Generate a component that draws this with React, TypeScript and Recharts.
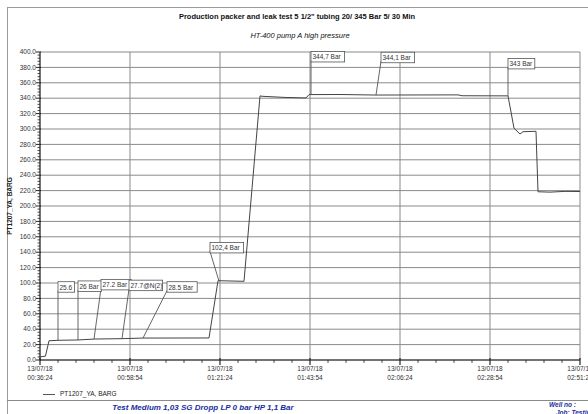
import React from 'react';
import { LineChart, Line, XAxis, YAxis, ReferenceLine, ReferenceDot } from 'recharts';

const font = '"Liberation Sans", Arial, sans-serif';
const seriesName = 'PT1207_YA, BARG';
const dateLabel = '13/07/18';

// time as seconds after midnight, pressure in bar
const times = [
    2184, 2266, 2319, 2454, 2754, 2994, 3414, 3729, 4719, 4854, 5244, 5484, 5514, 5859, 6174, 6219,
    6684, 7224, 8454, 8514, 9204, 9294, 9354, 9384, 9429, 9624, 9654, 9834, 10059, 10284,
];
const pressure = [
    4, 5, 25, 25.6, 26, 27.2, 27.7, 28.5, 28.6, 103, 102.2, 343, 342.5, 341, 340.3, 344.7,
    344.8, 344.1, 344.3, 343.2, 343, 301, 296, 293.5, 296.5, 297, 218.5, 218, 219, 218.8,
];

// annotation boxes: marked point and where the box sits
const noteLabels = ['25.6', '26 Bar', '27.2 Bar', '27.7@N(2)', '28.5 Bar', '102,4 Bar', '344,7 Bar', '344,1 Bar', '343 Bar'];
const noteTimes = [2454, 2754, 2994, 3414, 3729, 4869, 6249, 7224, 9204];
const noteValues = [25.6, 26, 27.2, 27.7, 28.5, 102.4, 344.7, 344.1, 343];
const noteBoxTimes = [2454, 2754, 3099, 3519, 4089, 4734, 6249, 7299, 9204];
const noteBoxValues = [90, 91, 93, 92, 90, 141, 389, 388, 380];

const xStart = 2184;
const xStep = 1350;
const xEnd = 10284;
const xTicks: number[] = [];
for (let t = xStart; t <= xEnd; t += 270) xTicks.push(t);
const xMajors = xTicks.filter((t) => (t - xStart) % xStep === 0);
const yTicks: number[] = [];
for (let v = 0; v <= 400; v += 4) yTicks.push(v);
const yMajors = yTicks.filter((v) => v % 20 === 0);

const data = times.map((t, i) => ({ t, p: pressure[i] }));

const pad = (n: number) => String(n).padStart(2, '0');
const clock = (s: number) => `${pad(Math.floor(s / 3600))}:${pad(Math.floor((s % 3600) / 60))}:${pad(s % 60)}`;

const YTick = (props: any) => {
    const { x, y, payload } = props;
    const major = payload.value % 20 === 0;
    return (
        <g>
            <line x1={x - (major ? 4 : 2.5)} x2={x + (major ? 1 : 0)} y1={y} y2={y} stroke="#222" strokeWidth={major ? 1 : 0.8} />
            {major && (
                <text x={x - 4} y={y + 2.2} textAnchor="end" fontSize={6.5} fontFamily={font} fill="#333">
                    {payload.value.toFixed(1)}
                </text>
            )}
        </g>
    );
};

const XTick = (props: any) => {
    const { x, y, payload } = props;
    const major = (payload.value - xStart) % xStep === 0;
    return (
        <g>
            <line x1={x} x2={x} y1={y - (major ? 2 : 0)} y2={y + (major ? 5 : 3)} stroke="#222" strokeWidth={major ? 1.2 : 0.8} />
            {major && (
                <text textAnchor="middle" fontSize={6.5} fontFamily={font} fill="#333">
                    <tspan x={x} y={y + 11}>{dateLabel}</tspan>
                    <tspan x={x} y={y + 20}>{clock(payload.value)}</tspan>
                </text>
            )}
        </g>
    );
};

const NoteBox = ({ cx, cy, text }: { cx: number; cy: number; text: string }) => {
    const w = text.length * 3.4 + 3;
    return (
        <g>
            <rect x={cx} y={cy - 9} width={w} height={10.5} fill="#fff" stroke="#555" strokeWidth={0.8} />
            <text x={cx + 1.5} y={cy - 1.2} fontSize={6.5} fontFamily={font} fill="#333">
                {text}
            </text>
        </g>
    );
};

const blue = '#1a2f9e';

const App = () => {
    return (
        <div style={{ position: 'absolute', left: 0, top: 0, width: 588, height: 414, background: '#fff', fontFamily: font, overflow: 'hidden' }}>
            <div style={{ position: 'absolute', left: 7, top: 7, width: 590, height: 420, border: '1px solid #9a9a9a' }} />
            <div style={{ position: 'absolute', left: 0, width: 594, top: 12, textAlign: 'center', fontSize: 7.5, fontWeight: 'bold', color: '#111' }}>
                Production packer and leak test 5 1/2" tubing 20/ 345 Bar 5/ 30 Min
            </div>
            <div style={{ position: 'absolute', left: 0, width: 600, top: 31, textAlign: 'center', fontSize: 7.5, fontStyle: 'italic', color: '#111' }}>
                HT-400 pump A high pressure
            </div>
            <div
                style={{
                    position: 'absolute',
                    left: 9,
                    top: 206,
                    transform: 'translate(-50%, -50%) rotate(-90deg)',
                    fontSize: 6.5,
                    fontWeight: 'bold',
                    whiteSpace: 'nowrap',
                    color: '#222',
                }}
            >
                {seriesName}
            </div>
            <div style={{ position: 'absolute', left: 8, top: 8 }}>
                <LineChart width={580} height={406} data={data} margin={{ top: 44, right: 8, bottom: 0, left: 0 }}>
                    {yMajors.map((v) => (
                        <ReferenceLine key={'h' + v} y={v} stroke="#8a8a8a" strokeWidth={1} />
                    ))}
                    {xMajors.map((t) => (
                        <ReferenceLine key={'v' + t} x={t} stroke="#8a8a8a" strokeWidth={1} />
                    ))}
                    <XAxis
                        dataKey="t"
                        type="number"
                        domain={[xStart, xEnd]}
                        ticks={xTicks}
                        interval={0}
                        height={54}
                        tickSize={0}
                        tickMargin={0}
                        tickLine={false}
                        axisLine={{ stroke: '#222' }}
                        tick={<XTick />}
                    />
                    <YAxis
                        type="number"
                        domain={[0, 400]}
                        ticks={yTicks}
                        interval={0}
                        width={32}
                        tickSize={0}
                        tickMargin={0}
                        tickLine={false}
                        axisLine={{ stroke: '#222' }}
                        tick={<YTick />}
                    />
                    <Line type="linear" dataKey="p" stroke="#444" strokeWidth={1} dot={false} isAnimationActive={false} />
                    {noteLabels.map((label, i) => (
                        <ReferenceLine
                            key={'s' + i}
                            segment={[
                                { x: noteTimes[i], y: noteValues[i] },
                                { x: noteBoxTimes[i], y: noteBoxValues[i] },
                            ]}
                            stroke="#555"
                            strokeWidth={0.9}
                        />
                    ))}
                    {noteLabels.map((label, i) => (
                        <ReferenceDot
                            key={'d' + i}
                            x={noteBoxTimes[i]}
                            y={noteBoxValues[i]}
                            r={1}
                            shape={(p: any) => <NoteBox cx={p.cx} cy={p.cy} text={label} />}
                        />
                    ))}
                </LineChart>
            </div>
            <div style={{ position: 'absolute', left: 43, top: 394, width: 12, height: 1, background: '#555' }} />
            <div style={{ position: 'absolute', left: 60, top: 390, fontSize: 6.5, lineHeight: '8px', color: '#222' }}>{seriesName}</div>
            <div style={{ position: 'absolute', left: 7, top: 400, width: 590, height: 1, background: '#8a8a8a' }} />
            <div style={{ position: 'absolute', left: 0, width: 406, top: 403, lineHeight: '9px', textAlign: 'center', fontSize: 8, fontWeight: 'bold', fontStyle: 'italic', color: blue }}>
                Test Medium 1,03 SG Dropp LP 0 bar HP 1,1 Bar
            </div>
            <div style={{ position: 'absolute', left: 549, top: 401, lineHeight: '8px', fontSize: 6.5, fontWeight: 'bold', fontStyle: 'italic', color: blue, whiteSpace: 'nowrap' }}>
                Well no :
            </div>
            <div style={{ position: 'absolute', left: 556, top: 409, lineHeight: '8px', fontSize: 6.5, fontWeight: 'bold', fontStyle: 'italic', color: blue, whiteSpace: 'nowrap' }}>
                Job: Testing
            </div>
        </div>
    );
};

export default App;
